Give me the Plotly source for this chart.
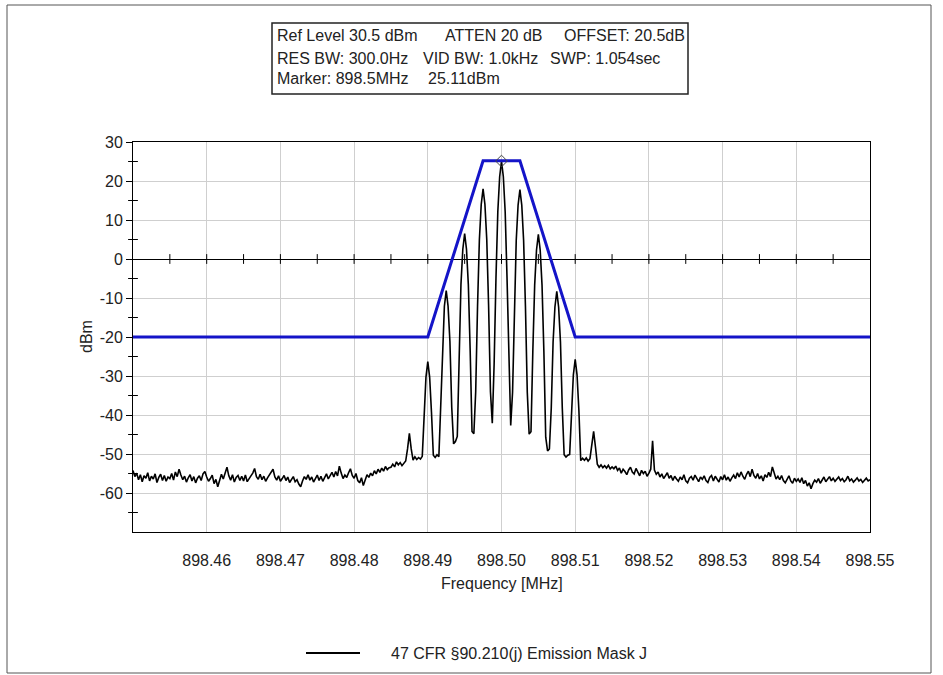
import numpy as np
import plotly.graph_objects as go

# ---------------- data ----------------
FREQ_START = 898.45
FREQ_STOP = 898.55
N_POINTS = 401  # sweep points (0.25 kHz spacing)

noise_left_dbm = [
    -54.2, -55.8, -54.9, -56.6, -55.3, -57.1, -55.6, -56.2, -54.8, -56.9,
    -55.7, -56.4, -55.1, -57.3, -56.0, -55.2, -56.8, -55.5, -57.0, -55.9,
    -56.3, -55.0, -56.7, -54.6, -55.8, -53.9, -55.4, -56.6, -55.7, -57.2,
    -56.1, -55.3, -56.9, -55.8, -57.4, -56.2, -55.6, -56.8, -55.1, -54.5,
    -55.9, -57.0, -56.3, -55.4, -57.6, -56.5, -58.4, -56.9, -55.2, -56.4,
    -54.8, -53.4, -55.6, -56.7, -55.3, -57.2, -56.0, -55.5, -56.8, -55.7,
    -56.9, -55.4, -57.1, -56.2, -55.6, -54.9, -53.7, -55.8, -56.5, -55.2,
    -56.6, -55.7, -57.0, -56.1, -55.4, -54.6, -53.9, -55.9, -56.7, -55.6,
    -57.0, -56.3, -55.5, -56.8, -55.9, -57.3, -56.4, -55.8, -57.1, -56.6,
    -57.7, -58.4, -56.9, -55.8, -56.5, -55.3, -56.7, -55.9, -57.2, -56.1,
    -55.4, -56.8, -55.7, -57.0, -56.2, -55.1, -56.4, -55.6, -54.7, -55.9,
    -54.5, -55.6, -53.1, -54.9, -56.3, -55.4, -56.0, -54.8, -53.8, -55.5,
    -56.2, -55.0, -56.8, -57.4, -56.1, -58.1, -56.6, -55.3, -56.0, -54.9,
    -55.6, -54.3, -55.1, -53.9, -54.7, -53.6, -54.4, -53.2, -54.0, -53.5,
]

signal_dbm = [
    -53.4, -52.6, -53.3, -52.0, -52.8, -52.2, -53.0, -52.4, -51.8, -48.7,
    -44.7, -48.7, -51.6, -50.7, -51.4, -50.9, -51.3, -50.6, -39.3, -30.3,
    -26.3, -30.3, -39.3, -50.3, -50.9, -50.2, -50.7, -38.1, -21.1, -12.1,
    -8.1, -12.1, -21.1, -38.1, -47.4, -46.8, -45.5, -23.5, -6.5, 2.5,
    6.5, 2.5, -6.5, -23.5, -44.2, -44.8, -34.0, -12.0, 5.0, 14.0,
    18.0, 14.0, 5.0, -12.0, -34.0, -42.1, -26.9, -4.9, 12.1, 21.1,
    25.1, 21.1, 12.1, -4.9, -26.9, -42.7, -34.2, -12.2, 4.8, 13.8,
    17.8, 13.8, 4.8, -12.2, -34.2, -44.9, -44.3, -23.7, -6.7, 2.3,
    6.3, 2.3, -6.7, -23.7, -45.7, -49.2, -48.7, -38.3, -21.3, -12.3,
    -8.3, -12.3, -21.3, -38.3, -50.2, -50.8, -50.3, -50.1, -38.7, -29.7,
    -25.7, -29.7, -38.7, -51.7, -51.1, -51.6, -51.0, -51.8, -51.2, -48.2,
    -44.2, -48.2, -52.6, -53.4, -52.8, -53.5, -53.0, -53.6, -52.9, -53.8,
    -53.3,
]

noise_right_dbm = [
    -53.8, -53.1, -54.2, -53.6, -54.9, -53.9, -54.5, -55.3, -54.1, -53.4,
    -54.6, -55.1, -53.7, -54.8, -55.6, -54.2, -55.0, -54.4, -55.7, -54.9,
    -53.9, -46.6, -54.1, -55.2, -54.6, -55.9, -55.1, -56.3, -55.4, -54.8,
    -56.2, -55.5, -56.8, -55.7, -56.4, -57.0, -55.9, -56.6, -55.3, -56.9,
    -57.4, -56.2, -55.8, -56.7, -55.4, -56.3, -57.1, -55.9, -56.5, -55.6,
    -56.8, -57.3, -56.0, -55.5, -56.9, -55.7, -56.4, -57.2, -55.8, -56.6,
    -55.3, -56.7, -55.9, -57.0, -56.1, -55.4, -56.3, -54.8, -55.9, -54.6,
    -55.7, -56.5, -55.2, -54.4, -55.8, -53.9, -55.5, -56.2, -55.0, -56.4,
    -55.6, -56.9, -55.3, -56.0, -54.7, -55.8, -53.3, -55.1, -56.4, -55.7,
    -56.6, -55.5, -56.8, -57.4, -56.3, -55.6, -56.9, -57.5, -56.2, -57.0,
    -56.4, -57.3, -56.1, -57.6, -56.8, -58.2, -57.4, -58.9, -57.6, -56.7,
    -57.2, -56.3, -57.5, -56.6, -55.9, -57.1, -56.4, -55.8, -56.9, -56.2,
    -57.0, -56.5, -55.9, -56.8, -56.3, -57.1, -56.6, -55.7, -56.9, -56.4,
    -57.2, -56.7, -56.1, -56.9, -56.5, -57.3, -56.8, -56.2, -56.9, -56.6,
]

mask_freq = [898.45, 898.49, 898.4975, 898.5025, 898.51, 898.55]
mask_dbm = [-20, -20, 25.2, 25.2, -20, -20]

marker_freq = [898.5]
marker_dbm = [25.11]

x_tickvals = [898.46, 898.47, 898.48, 898.49, 898.50, 898.51, 898.52, 898.53, 898.54, 898.55]
x_ticktext = ["898.46", "898.47", "898.48", "898.49", "898.50", "898.51",
              "898.52", "898.53", "898.54", "898.55"]
y_tickvals = [30, 20, 10, 0, -10, -20, -30, -40, -50, -60]
y_ticktext = ["30", "20", "10", "0", "-10", "-20", "-30", "-40", "-50", "-60"]
y_minor_ticks = [25, 15, 5, -5, -15, -25, -35, -45, -55, -65]
x_zero_ticks = [898.455, 898.46, 898.465, 898.47, 898.475, 898.48, 898.485, 898.49,
                898.495, 898.50, 898.505, 898.51, 898.515, 898.52, 898.525, 898.53,
                898.535, 898.54, 898.545]

info_lines = [
    ["Ref Level 30.5 dBm", "ATTEN 20 dB", "OFFSET: 20.5dB"],
    ["RES BW: 300.0Hz", "VID BW: 1.0kHz", "SWP: 1.054sec"],
    ["Marker: 898.5MHz", "25.11dBm"],
]
legend_name = "47 CFR §90.210(j) Emission Mask J"

# ---------------- figure ----------------
spectrum_dbm = noise_left_dbm + signal_dbm + noise_right_dbm
freq = np.round(np.linspace(FREQ_START, FREQ_STOP, N_POINTS), 6)

W, H = 943, 675
ML, MR, MT, MB = 133, 73, 142, 143
PW, PH = W - ML - MR, H - MT - MB


def px(xpix):
    return (xpix - ML) / PW


def py(ypix):
    return (H - MB - ypix) / PH


FONT = "Arial, Liberation Sans, sans-serif"
TXT = "#222"
fig = go.Figure()

fig.add_trace(go.Scatter(
    x=freq, y=spectrum_dbm, mode="lines", name=legend_name,
    line=dict(color="black", width=1.6), showlegend=False,
))
fig.add_trace(go.Scatter(
    x=mask_freq, y=mask_dbm, mode="lines", showlegend=False,
    line=dict(color="#1414c8", width=3),
))
fig.add_trace(go.Scatter(
    x=marker_freq, y=marker_dbm, mode="markers", showlegend=False,
    marker=dict(symbol="diamond-open", size=9, color="#444", line=dict(width=1)),
))
# crossing tick marks on zero line and y axis
fig.add_trace(go.Scatter(
    x=x_zero_ticks, y=[0] * len(x_zero_ticks), mode="markers", showlegend=False,
    marker=dict(symbol="line-ns-open", size=7, color="black", line=dict(width=1, color="black")),
    cliponaxis=False, hoverinfo="skip",
))
fig.add_trace(go.Scatter(
    x=[FREQ_START] * len(y_minor_ticks), y=y_minor_ticks, mode="markers", showlegend=False,
    marker=dict(symbol="line-ew-open", size=7, color="black", line=dict(width=1, color="black")),
    cliponaxis=False, hoverinfo="skip",
))

fig.update_xaxes(
    range=[FREQ_START, FREQ_STOP], tickvals=x_tickvals, ticktext=x_ticktext,
    showgrid=True, gridcolor="#cfcfcf", gridwidth=1,
    showline=True, linecolor="black", linewidth=1, mirror=True,
    ticks="outside", ticklen=14, tickcolor="rgba(0,0,0,0)",
    zeroline=False, tickfont=dict(family=FONT, size=16, color=TXT),
)
fig.update_yaxes(
    range=[-70, 30], tickvals=y_tickvals, ticktext=y_ticktext,
    showgrid=True, gridcolor="#cfcfcf", gridwidth=1,
    showline=True, linecolor="black", linewidth=1, mirror=True,
    ticks="outside", ticklen=6, tickcolor="black",
    zeroline=True, zerolinecolor="black", zerolinewidth=1,
    tickfont=dict(family=FONT, size=16, color=TXT),
)

annotations = [
    dict(x=px(86), y=0.5, xref="paper", yref="paper", text="dBm", textangle=-90,
         xanchor="center", yanchor="middle",
         showarrow=False, font=dict(family=FONT, size=16, color=TXT)),
    dict(x=0.5, y=py(583), xref="paper", yref="paper", text="Frequency [MHz]",
         xanchor="center", yanchor="middle",
         showarrow=False, font=dict(family=FONT, size=16, color=TXT)),
    # legend entry
    dict(x=px(389), y=py(653), xref="paper", yref="paper", text=legend_name,
         xanchor="left", yanchor="middle",
         showarrow=False, font=dict(family=FONT, size=16, color=TXT)),
]
seg_x = [[275, 443, 562], [275, 421, 548], [275, 426]]
line_y = [35.5, 58, 79]
for row, xs, yy in zip(info_lines, seg_x, line_y):
    for txt, xx in zip(row, xs):
        annotations.append(dict(
            x=px(xx), y=py(yy), xref="paper", yref="paper", text=txt,
            xanchor="left", yanchor="middle", showarrow=False,
            font=dict(family=FONT, size=16, color=TXT),
        ))

shapes = [
    dict(type="rect", xref="paper", yref="paper", x0=px(272), x1=px(688),
         y0=py(94), y1=py(23), line=dict(color="#222", width=1.5)),
    dict(type="rect", xref="paper", yref="paper", x0=px(7), x1=px(931),
         y0=py(673), y1=py(5), line=dict(color="#555", width=1)),
    # legend line sample
    dict(type="line", xref="paper", yref="paper", x0=px(306), x1=px(360),
         y0=py(653), y1=py(653), line=dict(color="black", width=2)),
]

fig.update_layout(
    width=W, height=H, margin=dict(l=ML, r=MR, t=MT, b=MB),
    paper_bgcolor="white", plot_bgcolor="white",
    annotations=annotations, shapes=shapes,
    showlegend=False,
)

fig.write_html("out.html", config={"displayModeBar": False},
               post_script="document.body.style.margin='0px';")
